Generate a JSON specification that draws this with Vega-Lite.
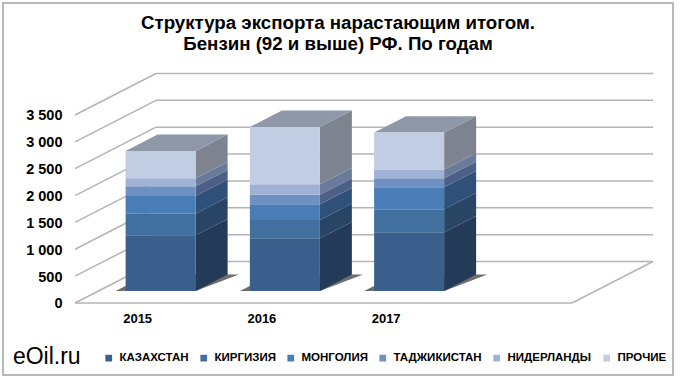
{"$schema":"https://vega.github.io/schema/vega-lite/v6.json","width":670,"height":372,"autosize":"none","padding":{"left":3,"top":3,"right":7,"bottom":9},"background":"white","config":{"view":{"stroke":"#b9b9b9","strokeWidth":2},"font":"Liberation Sans"},"title":{"text":["Структура экспорта нарастающим итогом.","Бензин (92 и выше) РФ. По годам"],"font":"Liberation Sans","fontSize":18.7,"fontWeight":"bold","color":"black","anchor":"middle","lineHeight":21,"baseline":"top","dy":51,"dx":0,"offset":0},"layer":[{"data":{"values":[{"tick":0},{"tick":500},{"tick":1000},{"tick":1500},{"tick":2000},{"tick":2500},{"tick":3000},{"tick":3500}]},"transform":[{"calculate":"datum.tick+772.5","as":"tb"}],"layer":[{"mark":{"type":"rule","color":"#b4b4b4","strokeWidth":1.5},"encoding":{"x":{"datum":0,"type":"quantitative","scale":{"domain":[-0.5795,4.8129],"nice":false,"zero":false},"axis":{"values":[0.5,1.5,2.5],"labelExpr":"format(2015+floor(datum.value),'d')","title":null,"domain":false,"ticks":false,"grid":false,"offset":-63,"labelPadding":0,"labelFont":"Liberation Sans","labelFontSize":13,"labelFontWeight":"bold","labelColor":"black"}},"x2":{"datum":0.652},"y":{"field":"tick","type":"quantitative","scale":{"domain":[-1340.3,5584.5],"nice":false,"zero":false},"axis":{"values":[0,500,1000,1500,2000,2500,3000,3500],"labelExpr":"replace(format(datum.value,','),',',' ')","title":null,"domain":false,"ticks":false,"grid":false,"offset":-59,"labelPadding":0,"labelOffset":1,"labelFont":"Liberation Sans","labelFontSize":14.5,"labelFontWeight":"bold","labelColor":"black"}},"y2":{"field":"tb"}}},{"mark":{"type":"rule","color":"#b4b4b4","strokeWidth":1.5},"encoding":{"x":{"datum":0.652,"type":"quantitative","scale":{"domain":[-0.5795,4.8129],"nice":false,"zero":false}},"x2":{"datum":4.652},"y":{"field":"tb","type":"quantitative","scale":{"domain":[-1340.3,5584.5],"nice":false,"zero":false}}}},{"transform":[{"filter":"datum.tick==0"}],"mark":{"type":"rule","color":"#b4b4b4","strokeWidth":1.5},"encoding":{"x":{"datum":0,"type":"quantitative","scale":{"domain":[-0.5795,4.8129],"nice":false,"zero":false}},"x2":{"datum":4},"y":{"field":"tick","type":"quantitative","scale":{"domain":[-1340.3,5584.5],"nice":false,"zero":false}}}},{"transform":[{"filter":"datum.tick==0"}],"mark":{"type":"rule","color":"#b4b4b4","strokeWidth":1.5},"encoding":{"x":{"datum":4,"type":"quantitative","scale":{"domain":[-0.5795,4.8129],"nice":false,"zero":false}},"x2":{"datum":4.652},"y":{"field":"tick","type":"quantitative","scale":{"domain":[-1340.3,5584.5],"nice":false,"zero":false}},"y2":{"field":"tb"}}}]},{"data":{"values":[{"year":"2015","country":"КАЗАХСТАН","value":1036},{"year":"2015","country":"КИРГИЗИЯ","value":403},{"year":"2015","country":"МОНГОЛИЯ","value":329},{"year":"2015","country":"ТАДЖИКИСТАН","value":180},{"year":"2015","country":"НИДЕРЛАНДЫ","value":149},{"year":"2015","country":"ПРОЧИЕ","value":509},{"year":"2016","country":"КАЗАХСТАН","value":980},{"year":"2016","country":"КИРГИЗИЯ","value":341},{"year":"2016","country":"МОНГОЛИЯ","value":292},{"year":"2016","country":"ТАДЖИКИСТАН","value":180},{"year":"2016","country":"НИДЕРЛАНДЫ","value":192},{"year":"2016","country":"ПРОЧИЕ","value":1067},{"year":"2017","country":"КАЗАХСТАН","value":1092},{"year":"2017","country":"КИРГИЗИЯ","value":428},{"year":"2017","country":"МОНГОЛИЯ","value":410},{"year":"2017","country":"ТАДЖИКИСТАН","value":168},{"year":"2017","country":"НИДЕРЛАНДЫ","value":161},{"year":"2017","country":"ПРОЧИЕ","value":689}]},"transform":[{"calculate":"toNumber(datum.year)-2015","as":"i"},{"calculate":"indexof(['КАЗАХСТАН','КИРГИЗИЯ','МОНГОЛИЯ','ТАДЖИКИСТАН','НИДЕРЛАНДЫ','ПРОЧИЕ'],datum.country)","as":"ord"},{"stack":"value","groupby":["year"],"sort":[{"field":"ord","order":"ascending"}],"as":["y0","y1"]},{"calculate":"0.29","as":"f"},{"calculate":"0.685","as":"b"}],"layer":[{"transform":[{"filter":"datum.ord==0"},{"fold":["f","b"],"as":["dk","d"]},{"calculate":"datum.d*772.5","as":"sy"},{"calculate":"datum.i+0.5-0.2817-0.08+0.652*datum.d","as":"sx0"},{"calculate":"datum.i+0.5+0.2817+0.652*datum.d+(datum.d-0.29)*0.228","as":"sx1"}],"mark":{"type":"area","orient":"horizontal","fill":"#6e6e6e"},"encoding":{"y":{"field":"sy","type":"quantitative","scale":{"domain":[-1340.3,5584.5],"nice":false,"zero":false}},"x":{"field":"sx0","type":"quantitative","scale":{"domain":[-0.5795,4.8129],"nice":false,"zero":false}},"x2":{"field":"sx1"},"detail":{"field":"year"}}},{"transform":[{"fold":["f","b"],"as":["dk","d"]},{"calculate":"datum.i+0.5+0.2817+0.652*datum.d","as":"sx"},{"calculate":"datum.y0+772.5*datum.d","as":"s0"},{"calculate":"datum.y1+772.5*datum.d","as":"s1"}],"mark":{"type":"area"},"encoding":{"x":{"field":"sx","type":"quantitative","scale":{"domain":[-0.5795,4.8129],"nice":false,"zero":false}},"y":{"field":"s0","type":"quantitative","scale":{"domain":[-1340.3,5584.5],"nice":false,"zero":false}},"y2":{"field":"s1"},"detail":{"field":"year"},"fill":{"field":"country","type":"nominal","legend":null,"scale":{"domain":["ПРОЧИЕ","НИДЕРЛАНДЫ","ТАДЖИКИСТАН","МОНГОЛИЯ","КИРГИЗИЯ","КАЗАХСТАН"],"range":["#7d8490","#6a7a9a","#4c6087","#2e5079","#284566","#243a59"]}}}},{"transform":[{"filter":"datum.ord==5"},{"fold":["f","b"],"as":["dk","d"]},{"calculate":"datum.y1+772.5*datum.d","as":"sy"},{"calculate":"datum.i+0.5-0.2817+0.652*datum.d","as":"sx0"},{"calculate":"datum.i+0.5+0.2817+0.652*datum.d","as":"sx1"}],"mark":{"type":"area","orient":"horizontal","fill":"#8f98a9"},"encoding":{"y":{"field":"sy","type":"quantitative","scale":{"domain":[-1340.3,5584.5],"nice":false,"zero":false}},"x":{"field":"sx0","type":"quantitative","scale":{"domain":[-0.5795,4.8129],"nice":false,"zero":false}},"x2":{"field":"sx1"},"detail":{"field":"year"}}},{"transform":[{"calculate":"datum.i+0.5-0.2817+0.652*0.29","as":"fx0"},{"calculate":"datum.i+0.5+0.2817+0.652*0.29","as":"fx1"},{"calculate":"datum.y0+772.5*0.29","as":"fy0"},{"calculate":"datum.y1+772.5*0.29","as":"fy1"}],"mark":{"type":"rect"},"encoding":{"x":{"field":"fx0","type":"quantitative","scale":{"domain":[-0.5795,4.8129],"nice":false,"zero":false}},"x2":{"field":"fx1"},"y":{"field":"fy0","type":"quantitative","scale":{"domain":[-1340.3,5584.5],"nice":false,"zero":false}},"y2":{"field":"fy1"},"color":{"field":"country","type":"nominal","scale":{"domain":["КАЗАХСТАН","КИРГИЗИЯ","МОНГОЛИЯ","ТАДЖИКИСТАН","НИДЕРЛАНДЫ","ПРОЧИЕ"],"range":["#3a5f8c","#41709f","#4a7cb5","#6f90c2","#9fb2d5","#c1cde2"]},"legend":{"orient":"none","legendX":100,"legendY":349,"direction":"horizontal","columns":6,"title":null,"symbolType":"square","symbolSize":45,"symbolStrokeWidth":0,"labelFont":"Liberation Sans","labelFontSize":11.5,"labelFontWeight":"bold","labelColor":"black","labelOffset":5,"columnPadding":9,"padding":0}}}}]},{"data":{"values":[{"label":"eOil.ru"}]},"mark":{"type":"text","font":"Liberation Sans","fontSize":23,"align":"left","baseline":"middle","color":"black"},"encoding":{"text":{"field":"label"},"x":{"datum":-0.5,"type":"quantitative","scale":{"domain":[-0.5795,4.8129],"nice":false,"zero":false}},"y":{"datum":-1010,"type":"quantitative","scale":{"domain":[-1340.3,5584.5],"nice":false,"zero":false}}}}]}
